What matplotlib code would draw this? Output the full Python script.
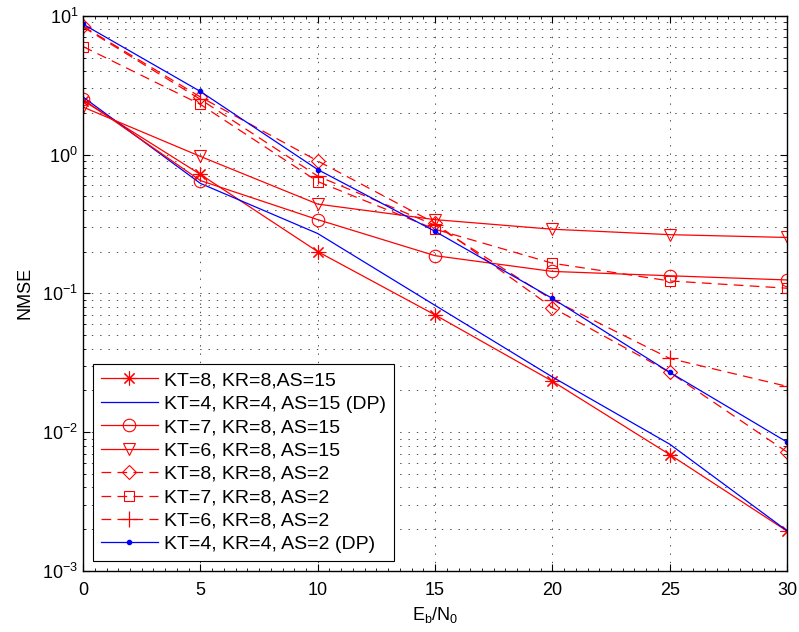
import numpy as np
import matplotlib
matplotlib.use('Agg')
import matplotlib.pyplot as plt
from matplotlib.ticker import LogLocator, LogFormatterMathtext, MultipleLocator, NullFormatter

plt.rcParams['font.family'] = ['Liberation Sans', 'DejaVu Sans']
plt.rcParams['mathtext.default'] = 'regular'
plt.rcParams['lines.scale_dashes'] = False

# Eb/N0 (dB)
snr = [0, 5, 10, 15, 20, 25, 30]

# NMSE curves
kt8_as15 = [2.45, 0.72, 0.20, 0.070, 0.0233, 0.0069, 0.00194]
kt4_as15_dp = [2.6, 0.62, 0.27, 0.082, 0.025, 0.0082, 0.00195]
kt7_as15 = [2.5, 0.65, 0.34, 0.187, 0.144, 0.134, 0.125]
kt6_as15 = [2.2, 0.97, 0.44, 0.34, 0.29, 0.265, 0.253]
kt8_as2 = [8.4, 2.6, 0.90, 0.32, 0.079, 0.027, 0.0072]
kt7_as2 = [6.0, 2.3, 0.64, 0.29, 0.165, 0.123, 0.109]
kt6_as2 = [8.3, 2.5, 0.70, 0.31, 0.090, 0.034, 0.0214]
kt4_as2_dp = [8.7, 2.85, 0.78, 0.28, 0.092, 0.027, 0.0085]

labels = ['KT=8, KR=8,AS=15', 'KT=4, KR=4, AS=15 (DP)', 'KT=7, KR=8, AS=15',
          'KT=6, KR=8, AS=15', 'KT=8, KR=8, AS=2', 'KT=7, KR=8, AS=2',
          'KT=6, KR=8, AS=2', 'KT=4, KR=4, AS=2 (DP)']

fig = plt.figure(figsize=(7.99, 6.32), dpi=100)
ax = fig.add_axes([0.104, 0.0965, 0.881, 0.8785])

lw = 0.9
ms = 9
dash = (0, (7, 4.5))
mk = dict(markerfacecolor='none', markeredgewidth=0.8, markersize=ms)

ax.semilogy(snr, kt8_as15, color='r', lw=lw, marker=(8, 2, 0), markersize=10,
            markeredgewidth=0.8, label=labels[0])
ax.semilogy(snr, kt4_as15_dp, color='b', lw=lw, label=labels[1])
ax.semilogy(snr, kt7_as15, color='r', lw=lw, marker='o', label=labels[2], **mk)
ax.semilogy(snr, kt6_as15, color='r', lw=lw, marker='v', label=labels[3], **mk)
ax.semilogy(snr, kt8_as2, color='r', lw=lw, ls=dash, marker='D', label=labels[4],
            markerfacecolor='none', markeredgewidth=0.8, markersize=7.5)
ax.semilogy(snr, kt7_as2, color='r', lw=lw, ls=dash, marker='s', label=labels[5],
            markerfacecolor='none', markeredgewidth=0.8, markersize=7.5)
ax.semilogy(snr, kt6_as2, color='r', lw=lw, ls=dash, marker='+', label=labels[6],
            markeredgewidth=0.9, markersize=11)
ax.semilogy(snr, kt4_as2_dp, color='b', lw=lw, marker='o', markersize=3,
            label=labels[7])

ax.set_xlim(0, 30)
ax.set_ylim(1e-3, 1e1)
ax.xaxis.set_major_locator(MultipleLocator(5))
ax.xaxis.set_minor_locator(MultipleLocator(0.5))
ax.yaxis.set_major_locator(LogLocator(base=10, numticks=10))
ax.yaxis.set_minor_locator(LogLocator(base=10, subs=np.arange(2, 10), numticks=10))
ax.yaxis.set_major_formatter(LogFormatterMathtext())
ax.yaxis.set_minor_formatter(NullFormatter())

ax.tick_params(which='both', direction='in', top=True, right=True, labelsize=13)
ax.tick_params(which='major', length=5, width=0.8)
ax.tick_params(which='minor', length=2.5, width=0.6)
ax.tick_params(axis='x', pad=8)

grid_ls = (0, (1, 5))
ax.grid(True, which='major', axis='x', color='0.3', ls=grid_ls, lw=0.7)
ax.grid(True, which='both', axis='y', color='0.3', ls=grid_ls, lw=0.7)
for sp in ax.spines.values():
    sp.set_linewidth(1.0)

ax.set_xlabel('E$_b$/N$_0$', fontsize=13, labelpad=4)
ax.set_ylabel('NMSE', fontsize=13, labelpad=6)

leg = ax.legend(loc='lower left', bbox_to_anchor=(0.014, 0.018), borderaxespad=0,
                fontsize=14, handlelength=2.95, handletextpad=0.3, labelspacing=0.3,
                borderpad=0.4, fancybox=False, framealpha=1, edgecolor='k')
leg.get_frame().set_linewidth(0.8)

fig.savefig('out.png', dpi=100)
